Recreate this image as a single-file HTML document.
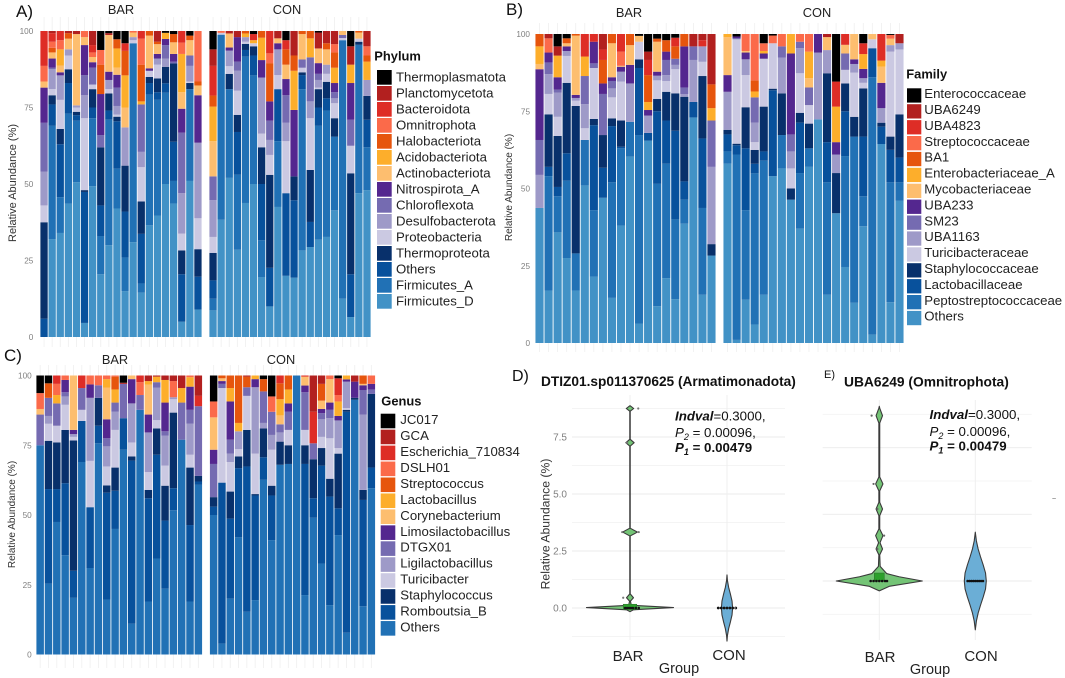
<!DOCTYPE html>
<html lang="en">
<head>
<meta charset="utf-8">
<title>Relative abundance panels</title>
<style>
html,body{margin:0;padding:0;background:#fff;width:1065px;height:678px;overflow:hidden}
svg{display:block;font-family:"Liberation Sans",sans-serif}
</style>
</head>
<body>
<svg id="fig" xmlns="http://www.w3.org/2000/svg" width="1065" height="678" viewBox="0 0 1065 678">
  <rect x="0" y="0" width="1065" height="678" fill="#fff"/>
  <g id="stage"></g>

  <text x="16" y="17" font-size="17" fill="#111">A)</text>
  <text x="506" y="15" font-size="17" fill="#111">B)</text>
  <text x="4" y="361" font-size="17" fill="#111">C)</text>
  <text x="512" y="381" font-size="16" fill="#111">D)</text>
  <text x="824" y="378" font-size="11" fill="#111">E)</text>

  <text x="121" y="14" font-size="12.8" text-anchor="middle" fill="#222">BAR</text>
  <text x="287" y="14" font-size="12.8" text-anchor="middle" fill="#222">CON</text>
  <text x="629" y="17" font-size="12.8" text-anchor="middle" fill="#222">BAR</text>
  <text x="817" y="17" font-size="12.8" text-anchor="middle" fill="#222">CON</text>
  <text x="115" y="364" font-size="12.8" text-anchor="middle" fill="#222">BAR</text>
  <text x="281" y="364" font-size="12.8" text-anchor="middle" fill="#222">CON</text>

  <text transform="translate(16,183) rotate(-90)" font-size="11" text-anchor="middle" fill="#333">Relative Abundance (%)</text>
  <text transform="translate(512,187.5) rotate(-90)" font-size="10" text-anchor="middle" fill="#333">Relative Abundance (%)</text>
  <text transform="translate(15,514.5) rotate(-90)" font-size="10" text-anchor="middle" fill="#333">Relative Abundance (%)</text>
  <text transform="translate(549.5,524) rotate(-90)" font-size="12.2" text-anchor="middle" fill="#333">Relative Abundance (%)</text>

  <text x="541" y="386" font-size="13.7" font-weight="bold" fill="#111">DTIZ01.sp011370625 (Armatimonadota)</text>
  <text x="844" y="386.5" font-size="13.8" font-weight="bold" fill="#111">UBA6249 (Omnitrophota)</text>

  <g font-size="13.3" fill="#111">
    <text x="675" y="420.5"><tspan font-weight="bold" font-style="italic">Indval</tspan>=0.3000,</text>
    <text x="675" y="437"><tspan font-style="italic">P</tspan><tspan font-size="9" dy="3" font-style="italic">2</tspan><tspan dy="-3"> = 0.00096,</tspan></text>
    <text x="675" y="452" font-weight="bold"><tspan font-style="italic">P</tspan><tspan font-size="9" dy="3" font-style="italic">1</tspan><tspan dy="-3"> = 0.00479</tspan></text>
  </g>
  <g font-size="13.3" fill="#111">
    <text x="929.5" y="419"><tspan font-weight="bold" font-style="italic">Indval</tspan>=0.3000,</text>
    <text x="929.5" y="436"><tspan font-style="italic">P</tspan><tspan font-size="9" dy="3" font-style="italic">2</tspan><tspan dy="-3"> = 0.00096,</tspan></text>
    <text x="929.5" y="450.5" font-weight="bold"><tspan font-style="italic">P</tspan><tspan font-size="9" dy="3" font-style="italic">1</tspan><tspan dy="-3"> = 0.00479</tspan></text>
  </g>

  <text x="628" y="661" font-size="15" text-anchor="middle" fill="#222">BAR</text>
  <text x="729" y="660" font-size="15" text-anchor="middle" fill="#222">CON</text>
  <text x="679" y="673" font-size="14.5" text-anchor="middle" fill="#222">Group</text>
  <text x="880" y="662" font-size="15" text-anchor="middle" fill="#222">BAR</text>
  <text x="981" y="661" font-size="15" text-anchor="middle" fill="#222">CON</text>
  <text x="930" y="674" font-size="14.5" text-anchor="middle" fill="#222">Group</text>
  <text x="1054" y="501" font-size="7" text-anchor="middle" fill="#555">~</text>
</svg>

<script>
// ---------- categories (bottom of stack first) ----------
var phylumCategories = ["Firmicutes_D","Firmicutes_A","Others","Thermoproteota","Proteobacteria","Desulfobacterota","Chloroflexota","Nitrospirota_A","Actinobacteriota","Acidobacteriota","Halobacteriota","Omnitrophota","Bacteroidota","Planctomycetota","Thermoplasmatota"];
var familyCategories = ["Others","Peptostreptococcaceae","Lactobacillaceae","Staphylococcaceae","Turicibacteraceae","UBA1163","SM23","UBA233","Mycobacteriaceae","Enterobacteriaceae_A","BA1","Streptococcaceae","UBA4823","UBA6249","Enterococcaceae"];
var genusCategories = ["Others","Romboutsia_B","Staphylococcus","Turicibacter","Ligilactobacillus","DTGX01","Limosilactobacillus","Corynebacterium","Lactobacillus","Streptococcus","DSLH01","Escherichia_710834","GCA","JC017"];
var yTickLabels = [0,25,50,75,100];

// ---------- samples: flat pairs of category index, cumulative relative abundance (%) ----------
var phylumBar = [
[2,6,3,37.5,4,43,5,54,6,70,7,81.5,8,83.5,11,88.6,12,100],
[0,32,1,69,2,76,3,79,4,81,5,87.5,6,88,7,91,8,93,10,94.5,11,96.5,12,99.3,13,100],
[0,34,1,45.7,2,63,3,68,4,77.5,5,85.5,7,86.5,8,88.7,9,94,11,97,12,100],
[0,43.6,1,73,2,83,3,87.5,4,92,5,94,8,97.5,10,99.3,13,100],
[0,50.6,1,70.7,2,72.5,3,73.6,4,75,5,75.7,8,99,13,100],
[0,4.6,2,47.4,3,48,4,71.5,5,79,6,85.6,7,95.4,8,98,11,100],
[0,49.3,1,71.5,2,75,3,81,4,82.5,6,88,7,89.8,8,91.5,11,93,12,95.4,13,100],
[0,20.5,1,33,2,43,3,62,6,66,7,79.4,10,89,11,93.8,14,100],
[0,30,1,71,2,74,3,79.6,4,81,5,84,7,86.7,8,98.7,13,99.3,14,100],
[0,42,1,55,2,70.5,3,72,4,72.7,5,75.5,6,81.5,7,85.7,8,88,9,94.3,10,97.3,14,100],
[0,15,1,26,2,41,3,56,5,68.5,8,75,9,85.5,10,93.5,12,96,14,100],
[0,31,1,96,4,97,5,98,8,99.5,11,100],
[0,14.5,1,17.5,2,33.7,3,44.3,4,55.5,5,60.5,6,76,9,77,10,89,11,97.5,12,100],
[0,36.5,1,79.2,2,83,3,85,4,87,7,87.8,8,98.5,10,100],
[0,39.7,1,77.5,2,80,3,84.5,4,89,5,91,7,92.5,8,95.7,10,96.5,13,100],
[0,50,1,79.8,2,82.9,3,88.3,5,91,6,95.4,7,97.4,9,99.4,14,100],
[0,43.6,1,51,2,63.8,3,89.4,6,90,7,92.5,8,96.3,10,99,14,100],
[0,5,2,20.5,3,28.3,4,33.8,5,47,6,66.8,7,74.6,8,80,9,92.5,11,96.2,12,100],
[0,51,1,81,3,83,4,83.5,5,88.6,6,92,8,97,10,98.5,14,100],
[0,9,2,19.7,3,28.7,4,38.8,5,63.5,7,79,8,82.2,10,83.5,11,100]
];
var phylumCon = [
[0,8.7,1,12.5,2,18.5,3,27.5,4,32.7,5,44.7,6,52.5,8,64,9,75.3,10,78.9,12,88.6,13,94,14,100],
[0,38.3,1,98.8,4,99.4,11,100],
[0,52,1,81,3,86,4,88.5,5,93.6,7,94.6,8,99.2,13,100],
[0,28.5,1,53,2,67,3,72.6,4,80.5,5,87,6,90,7,98,13,100],
[0,43.8,1,91.6,2,93.8,3,95.8,4,96.5,5,98,9,99.2,10,100],
[0,50,1,85.5,2,92,3,95,4,96,9,97,12,99,14,100],
[0,19.6,1,31.6,2,50,3,62,4,66.5,5,84.8,7,90.5,9,97.8,10,100],
[0,10,2,22.6,3,53,4,59.5,5,64.4,6,70.7,7,77,10,89.5,11,92.7,12,100],
[0,42.5,1,64,2,81,4,85.6,5,94,7,96,8,97.6,13,100],
[0,20,2,47,4,64,5,70,6,79,7,84.3,8,89,10,94,12,97,14,100],
[0,19.4,2,44.7,3,52.5,7,74.2,9,87,10,92,13,100],
[0,28.3,1,81,2,85.6,3,86.5,4,88,6,90.7,8,99,10,100],
[0,29.4,2,37.6,3,54.6,4,71.5,5,77,6,91.4,9,97.6,10,100],
[0,31.8,1,69,2,75,3,81,4,81.5,5,84,6,86,7,89.5,8,94.3,13,99.5,14,100],
[0,32.7,1,74,2,78,3,83.4,4,86,5,89,8,94,10,96,13,100],
[0,41.4,1,65.5,3,71.5,4,76.4,5,78,6,80,7,83,9,88,10,93,11,95.7,13,100],
[0,12.5,1,97,4,97.7,6,98.7,8,100],
[0,6.5,2,20.5,3,53.5,4,62.5,6,71,7,83,9,89,13,95,14,100],
[0,47,1,95.5,3,96.5,4,97.5,8,99.5,10,100],
[0,48,1,62,2,71,3,78.8,5,84,9,90,10,92,11,95,13,100]
];
var familyBar = [
[0,43.7,5,54.4,6,65.7,7,88.6,8,90.3,9,96,10,100],
[0,17,1,54,2,57,3,74,4,80.6,5,87,6,90.8,7,94,11,98.6,13,100],
[0,35.8,1,47.5,2,50.5,3,67,4,73.2,5,81,6,82,7,86,9,93,13,96,14,100],
[0,27.5,1,52.5,2,61.4,3,84.2,4,92.9,5,94.5,7,96,8,97,10,98.6,14,100],
[0,17,1,29,3,76.7,4,78.4,5,79.3,7,80.3,8,99.5,10,100],
[0,51,1,65.7,4,69.5,5,77.3,6,86.4,9,92.7,12,100],
[0,21.5,1,43,2,70.5,3,72.5,4,89,6,90.5,7,97.5,12,100],
[0,47,2,56.7,3,67.3,6,80.6,7,84,10,91.6,12,95,13,100],
[0,14.6,1,52,2,70.2,3,72.7,4,79.5,5,82.4,6,84.8,7,86,8,97,10,100],
[0,38,1,63,2,63.5,3,72,4,84.6,5,87.8,7,89.4,8,89.7,11,94.3,12,100],
[0,60.3,1,71.6,5,84,7,90,8,96.4,10,100],
[0,6.3,1,67.3,2,89,3,91.8,4,97.5,8,99.4,14,100],
[0,65.5,2,68,5,73.6,7,75.4,9,78,10,86.7,12,91.6,13,94.3,14,100],
[0,11.9,1,51.5,2,75,3,79,4,85,5,86.5,7,87.8,8,97.5,10,98.5,14,100],
[0,21,1,58,2,72,3,81.3,4,84.8,5,86.7,6,91.6,7,94.3,10,98,14,100],
[0,14.2,1,40,2,68.7,3,80.8,4,88.6,5,90,6,92,10,96,12,98.8,14,100],
[0,38.6,1,46.4,2,52.3,3,79.7,5,80.5,6,82.7,7,96,10,100],
[0,73,2,78,5,91.6,6,96,13,100],
[0,15.6,1,43.7,2,66.2,3,86.4,4,91,5,96,12,98,13,100],
[0,28.3,3,32,5,57,6,72,9,76,10,83.7,13,100]
];
var familyCon = [
[0,58,1,62,2,67.5,3,69,5,81.3,7,86.7,8,99,9,100],
[0,1,1,61,2,64,3,64.5,4,98.3,6,98.7,7,99.2,14,100],
[0,14,1,43,2,63,3,76.3,4,86.7,5,91.8,7,94,8,94.5,11,100],
[0,6,1,54.9,2,58,3,62.5,4,65,5,71.3,6,79.5,9,81.4,10,85,11,100],
[0,15.6,1,59,2,62,3,76.5,4,92,7,93.7,9,94.5,11,97,14,100],
[0,54,2,81.8,3,82.3,4,97,11,99.5,14,100],
[0,56.5,1,67.3,3,80.8,5,92.4,6,96,11,100],
[0,46.4,3,50,4,56.5,5,62,6,67.5,7,93.7,9,100],
[0,37,1,55,2,71.3,3,74.5,4,87.3,5,95.4,6,97.5,11,100],
[0,57,1,63,3,71,4,77,6,82.7,8,85.7,9,94.3,11,100],
[0,72.4,5,94,7,100],
[0,15.6,1,52,2,65,3,87.3,5,94.8,8,99,13,100],
[0,42,3,55,5,61,7,65,9,76.5,12,84.6,14,100],
[0,24.6,1,60.5,2,75,3,84,4,88.4,6,93.7,8,96.5,12,100],
[0,13,1,66.8,3,73.2,4,87.5,5,90.3,7,91.8,8,100],
[0,37.8,1,47.5,2,66.8,3,82.4,4,84.2,5,85.7,7,88.7,9,93.5,12,97,14,100],
[0,2.7,1,86,2,95.4,4,98.3,8,100],
[0,64.4,2,70,3,71.3,5,76,7,84.2,8,89.4,9,91.4,12,100],
[0,13.2,1,52,2,62.5,3,66.8,4,94.3,5,96.4,8,98.5,11,99.7,14,100],
[0,46,1,52,2,60,3,74,4,95,5,97,13,100]
];
var genusBar = [
[0,75,5,86,7,88,10,93.7,13,100],
[0,25.4,1,59.3,2,76.6,3,82.7,4,85.5,5,92,9,97.2,13,100],
[0,47.5,1,59.3,2,76,3,82,5,90,8,93,10,97,11,100],
[0,35.6,1,61.4,2,80.5,3,89.5,4,92.5,5,94,6,98.4,10,100],
[0,20.3,1,30,2,76.7,3,78,4,79,6,80.5,7,100],
[0,69,1,83.7,3,87.7,5,95.5,11,100],
[0,31,1,52.8,3,69.4,4,92,6,96.8,10,100],
[0,75.7,1,82,2,92,5,96.5,10,100],
[0,19.7,1,58,2,60.6,3,67.4,4,74.6,5,77.5,6,84.3,7,95.7,8,98.7,10,100],
[0,45,1,58.7,2,67,3,80.5,4,87,5,90.3,8,95,9,99.6,10,100],
[0,73.4,1,84.7,5,97,12,97.4,13,100],
[0,11,1,69.5,2,71,3,76,4,90,6,98.7,7,100],
[0,87.7,5,93,10,97.6,11,100],
[0,19,1,56,2,59,3,65.4,4,79.6,6,86,7,96.7,8,98,12,100],
[0,34.4,1,71.6,2,81,3,84,4,95.7,5,97.6,8,99.6,12,100],
[0,23.6,1,48,2,60.5,3,67.7,4,78.4,5,80,6,90.3,8,98.4,12,100],
[0,51.7,1,59.6,2,86.7,3,91.5,4,92.2,10,98,12,100],
[0,77,5,90.3,8,95.5,12,100],
[0,19,1,46.4,2,67,3,71.6,4,82.7,5,87.7,6,96,8,99.4,10,100],
[0,60.8,1,62,2,64,5,89,11,92.7,12,100]
];
var genusCon = [
[0,50,1,53,2,56.4,5,68.3,6,73.4,7,85,10,90.7,13,100],
[0,3.9,1,61.6,3,95.5,5,97,6,98,7,99,9,100],
[0,20,1,48.7,2,58.4,3,69,4,72,5,77,6,90.7,8,95.5,9,100],
[0,42,1,66.8,2,71,3,73.6,4,80,8,83,9,100],
[0,15.3,1,67.4,2,80.5,3,92.7,5,95.8,9,99.6,12,100],
[0,19.5,1,57,2,57.5,3,72,4,95.8,6,98.7,8,100],
[0,62.6,1,70.7,2,81,4,83,5,94.3,9,98.7,13,100],
[0,41,1,57,2,60.5,3,73.4,4,78.7,5,87,10,92.5,13,100],
[0,68,2,76.3,4,79.6,5,82.5,7,85.7,8,91.5,9,97.2,11,100],
[0,68.3,2,75,3,80.5,5,87,6,90,8,95,9,100],
[0,100],
[0,21.3,1,68.3,2,75,3,80.5,5,94,6,96.4,7,99.6,11,100],
[0,49,1,56,2,70,5,75.7,11,87,12,100],
[0,32.6,1,67.7,2,74,3,78,4,84.3,5,86.5,6,88,7,91,9,97,12,100],
[0,17.7,1,56.6,2,63,3,77.5,4,84.7,5,87.7,6,90.3,7,98.7,10,100],
[0,42.8,1,52.4,2,72,3,74,4,83.9,6,85.5,8,90.7,10,93,11,99,13,100],
[0,7.8,1,87,2,87.7,3,88.3,4,97.8,6,98.6,8,100],
[0,91.3,2,92,6,97.8,12,100],
[0,17.3,1,55.4,2,59,4,86,5,94.8,6,96.5,7,97,9,100],
[0,59.6,1,67,2,93.4,5,95,6,97,10,100]
];

// ---------- violin data: value level, relative density ----------
var dBarLevels = [8.87,8.75,8.63,7.4,7.25,7.1,3.5,3.33,3.16,0.62,0.45,0.3,0.12,0.02,-0.08,-0.16];
var dBarDensity = [0.005,0.085,0.005,0.005,0.095,0.005,0.005,0.17,0.005,0.005,0.08,0.01,0.03,1,0.08,0];
var dConLevels = [1.45,1.2,0.9,0.6,0.3,0,-0.3,-0.6,-0.9,-1.2,-1.45];
var dConDensity = [0,0.08,0.3,0.62,0.9,1,0.9,0.62,0.3,0.08,0];
var eBarLevels = [6.55,6.48,6.2,5.92,3.9,3.64,3.38,2.95,2.7,2.45,1.95,1.7,1.45,1.42,1.2,0.98,0.55,0.28,0.16,0,-0.2,-0.37];
var eBarDensity = [0,0.01,0.075,0.01,0.01,0.085,0.01,0.01,0.075,0.01,0.01,0.085,0.02,0.02,0.075,0.01,0.02,0.17,0.46,1,0.23,0];
var eConLevels = [1.83,1.5,1.2,0.9,0.6,0.3,0,-0.3,-0.6,-0.9,-1.2,-1.5,-1.83];
var eConDensity = [0,0.1,0.26,0.48,0.72,0.93,1,0.93,0.72,0.48,0.26,0.1,0];

// ---------- jittered sample points: value, group jitter ----------
var dBarPoints = [[8.75,0.085],[7.25,-0.03],[3.33,-0.08],[3.33,0.09],[0.45,-0.07]];
var dBarZeros = [-0.05,-0.03,-0.01,0.01,0.03,0.06,0.09];
var dConZeros = [-0.09,-0.06,-0.03,0,0.03,0.06,0.09];
var eBarPoints = [[6.2,-0.08],[3.64,-0.06],[2.7,-0.02],[1.7,0.05],[1.2,-0.02]];
var eBarZeros = [-0.09,-0.06,-0.03,0,0.03,0.06,0.08];
var eConZeros = [-0.08,-0.06,-0.04,-0.02,0,0.02,0.04,0.06,0.08];
var dMajorTicks = [0,2.5,5,7.5];
var dTickLabels = ["0.0","2.5","5.0","7.5"];
var dMinorTicks = [-1.25,1.25,3.75,6.25,8.75];
var eMajorTicks = [0,2.5,5];
var eMinorTicks = [-1.25,1.25,3.75,6.25];
// box summary: q1, q3
var dBarBox = [0,0.1];
var eBarBox = [0,0.3];

var palette = ["#4292c6","#2171b5","#08519c","#08306b","#cbc9e2","#9e9ac8","#756bb1","#54278f","#fdbe6f","#fdae2b","#e6550d","#fb6a4a","#de2d26","#b2201f","#000000"];
var genusPalette = ["#2171b5","#08519c","#08306b","#cbc9e2","#9e9ac8","#756bb1","#54278f","#fdbe6f","#fdae2b","#e6550d","#fb6a4a","#de2d26","#b2201f","#000000"];

var NS = "http://www.w3.org/2000/svg";
var stage = document.getElementById("stage");
function mk(tag, attrs, parent){
  var el = document.createElementNS(NS, tag);
  for (var k in attrs) el.setAttribute(k, attrs[k]);
  (parent || stage).appendChild(el);
  return el;
}

function stackFacet(samples, colors, x0, x1, yScale, top, bottom, key, names){
  var g = mk("g", {});
  
  
  var pitch = (x1 - x0) / samples.length;
  samples.forEach(function(sample, i){
    var cx = x0 + pitch * (i + 0.5);
    var stub = mk("line", {x1:cx, x2:cx, y1:top, y2:bottom, stroke:"#efefef", "stroke-width":0.8}, g);
    
    
    var prev = 0;
    for (var j = 0; j < sample.length; j += 2){
      var cat = sample[j], upper = sample[j+1];
      var seg = mk("rect", {x:x0 + pitch*i + pitch*0.05, width:pitch*0.9, y:yScale(upper), height:Math.max(0, yScale(prev) - yScale(upper)), fill:colors[cat]}, g);
      
      
      prev = upper;
    }
  });
}

function yTicks(yScale, rightX, key){
  yTickLabels.forEach(function(v){
    var t = mk("text", {x:rightX, y:yScale(v)+3, "font-size":8.2, "text-anchor":"end", fill:"#7f7f7f"});
    t.textContent = v;
    
    
  });
}

function legend(names, colors, title, tx, ty, sx, sy, sw, pitch, textX, textDy, key){
  var g = mk("g", {});
  
  
  var head = mk("text", {x:tx, y:ty, "font-size":12.9, "font-weight":"bold", fill:"#111"}, g);
  head.textContent = title;
  
  
  for (var i = names.length - 1, r = 0; i >= 0; i--, r++){
    var s = mk("rect", {x:sx, y:sy + r*pitch, width:sw, height:sw, fill:colors[i]}, g);
    
    
    var t = mk("text", {x:textX, y:sy + r*pitch + textDy, "font-size":13.2, fill:"#222"}, g);
    t.textContent = names[i];
    
    
  }
}

function violin(levels, density, cx, halfWidth, yScale, fill, key){
  var right = [], left = [];
  levels.forEach(function(v, i){
    right.push((cx + density[i]*halfWidth) + "," + yScale(v));
    left.unshift((cx - density[i]*halfWidth) + "," + yScale(v));
  });
  var p = mk("polygon", {points:right.concat(left).join(" "), fill:fill, stroke:"#3a3a3a", "stroke-width":1.1, "stroke-linejoin":"round"});
  
  
}

function dots(list, groupX, yScale, r, color, key){
  list.forEach(function(d){
    var c = mk("circle", {cx:groupX(d[1]), cy:yScale(d[0]), r:r, fill:color});
    
    
  });
}

function hGrid(ticks, yScale, x0, x1, color, key){
  ticks.forEach(function(v){
    var l = mk("line", {x1:x0, x2:x1, y1:yScale(v), y2:yScale(v), stroke:color, "stroke-width":0.9});
    
    
  });
}

// ---------- stacked panels ----------
var yA = function(v){ return 337 - 3.06*v; };
var yB = function(v){ return 343 - 3.09*v; };
var yC = function(v){ return 654.5 - 2.79*v; };

stackFacet(phylumBar, palette, 40, 202, yA, 17, 347, "a-bar", phylumCategories);
stackFacet(phylumCon, palette, 209, 371, yA, 17, 347, "a-con", phylumCategories);
stackFacet(familyBar, palette, 535, 716, yB, 23, 352, "b-bar", familyCategories);
stackFacet(familyCon, palette, 723, 904, yB, 23, 352, "b-con", familyCategories);
stackFacet(genusBar, genusPalette, 36, 202.5, yC, 365, 668, "c-bar", genusCategories);
stackFacet(genusCon, genusPalette, 209.5, 375.5, yC, 365, 668, "c-con", genusCategories);
yTicks(yA, 33.3, "a");
yTicks(yB, 530, "b");
yTicks(yC, 31.7, "c");

legend(phylumCategories, palette, "Phylum", 374.3, 60.7, 377, 70, 14.7, 16, 396, 11.4, "phylum");
legend(familyCategories, palette, "Family", 906.3, 78.3, 907, 88.3, 14.3, 15.9, 924.3, 9.8, "family");
legend(genusCategories, genusPalette, "Genus", 381.3, 405.7, 380.7, 413.7, 14.6, 15.95, 400.3, 10.4, "genus");

// ---------- panel D ----------
var yD = function(v){ return 608 - 22.8*v; };
var xD = function(g){ return 630 + 97*g; };
hGrid(dMinorTicks, yD, 572, 785, "#f4f4f4", "d-minor");
hGrid(dMajorTicks, yD, 572, 785, "#ebebeb", "d-major");
[0,1].forEach(function(g){
  var l = mk("line", {x1:xD(g), x2:xD(g), y1:395, y2:640, stroke:"#eeeeee", "stroke-width":0.9});
  
  
});
dTickLabels.forEach(function(label, i){
  var t = mk("text", {x:567, y:yD(dMajorTicks[i])+3.6, "font-size":10, "text-anchor":"end", fill:"#7f7f7f"});
  t.textContent = label;
  
  
});
violin(dBarLevels, dBarDensity, xD(0), 43.5, yD, "#74c476", "d-bar");
violin(dConLevels, dConDensity, xD(1), 5.6, yD, "#6baed6", "d-con");
var boxD = mk("rect", {x:xD(-0.07), width:xD(0.07)-xD(-0.07), y:yD(dBarBox[1])-1.5, height:yD(dBarBox[0])-yD(dBarBox[1])+3, fill:"#2ca02c", stroke:"#2b6e2b", "stroke-width":0.5});


dots(dBarPoints, xD, yD, 1.1, "#777", "d-bar-outlier");
dots(dBarZeros.map(function(j){ return [0,j]; }), xD, yD, 1.3, "#111", "d-bar-zero");
dots(dConZeros.map(function(j){ return [0,1+j]; }), xD, yD, 1.4, "#111", "d-con-zero");
dots([[0,1.22/1.14]], function(g){ return xD(g)+1; }, yD, 1.1, "#777", "d-con-outlier");

// ---------- panel E ----------
var yE = function(v){ return 581 - 26.67*v; };
var xE = function(g){ return 879.3 + 96*g; };
hGrid(eMinorTicks, yE, 822.7, 1031.7, "#f4f4f4", "e-minor");
hGrid(eMajorTicks, yE, 822.7, 1031.7, "#ebebeb", "e-major");
[0,1].forEach(function(g){
  var l = mk("line", {x1:xE(g), x2:xE(g), y1:400, y2:640, stroke:"#eeeeee", "stroke-width":0.9});
  
  
});
violin(eBarLevels, eBarDensity, xE(0), 43, yE, "#74c476", "e-bar");
violin(eConLevels, eConDensity, xE(1), 11, yE, "#6baed6", "e-con");
var boxE = mk("rect", {x:xE(-0.052), width:xE(0.052)-xE(-0.052), y:yE(eBarBox[1]), height:yE(eBarBox[0])-yE(eBarBox[1]), fill:"#2ca02c", stroke:"#2b6e2b", "stroke-width":0.5});


dots(eBarPoints, xE, yE, 1.1, "#666", "e-bar-outlier");
dots(eBarZeros.map(function(j){ return [0,j]; }), xE, yE, 1.3, "#111", "e-bar-zero");
dots(eConZeros.map(function(j){ return [0,1+j]; }), xE, yE, 1.3, "#111", "e-con-zero");
</script>
</body>
</html>
